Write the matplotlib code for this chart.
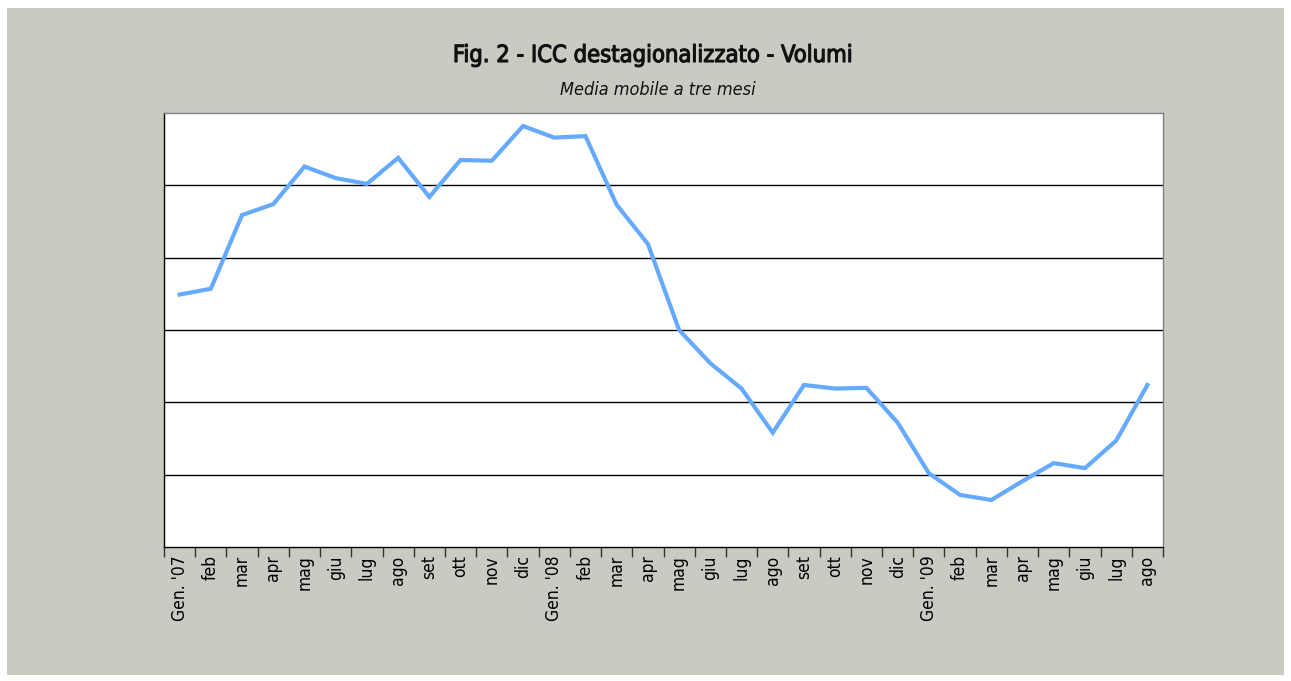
import matplotlib.pyplot as plt
import matplotlib.patches as mpatches
import matplotlib.patheffects as pe
import numpy as np

# Month labels (Jan 2007 - Aug 2009)
months = ["Gen. '07", "feb", "mar", "apr", "mag", "giu", "lug", "ago", "set", "ott", "nov", "dic",
          "Gen. '08", "feb", "mar", "apr", "mag", "giu", "lug", "ago", "set", "ott", "nov", "dic",
          "Gen. '09", "feb", "mar", "apr", "mag", "giu", "lug", "ago"]

# ICC volumes, 3-month moving average (axis units unlabelled)
icc = [3.49, 3.57, 4.59, 4.74, 5.26, 5.10, 5.02, 5.38, 4.84, 5.35, 5.34, 5.82,
       5.66, 5.68, 4.73, 4.19, 3.00, 2.54, 2.19, 1.58, 2.24, 2.19, 2.20, 1.72,
       1.02, 0.72, 0.65, 0.91, 1.16, 1.09, 1.47, 2.24]

grid_levels = [1, 2, 3, 4, 5]

fig = plt.figure(figsize=(12.91, 6.81), dpi=100)
fig.patch.set_facecolor('white')

# grey panel behind the chart
fig.patches.append(mpatches.Rectangle((7 / 1291, 6 / 681), 1277 / 1291, 667 / 681,
                                      transform=fig.transFigure, facecolor='#c9cac2',
                                      edgecolor='none', zorder=-10))

ax = fig.add_axes([164 / 1291, 134 / 681, 999 / 1291, 434 / 681])
ax.set_zorder(5)
ax.set_facecolor('white')

x = np.arange(len(months))
ax.plot(x, icc, color='#66aaff', linewidth=3, solid_joinstyle='miter', zorder=3)

for g in grid_levels:
    ax.axhline(g, color='black', linewidth=1, zorder=2)

ax.set_xlim(-0.5, len(months) - 0.5)
ax.set_ylim(0, 6)
ax.set_yticks([])

# ticks sit between the months, labels in the middle
ax.set_xticks(np.arange(-0.5, len(months)), minor=False)
ax.set_xticklabels([])
ax.set_xticks(x, minor=True)
ax.set_xticklabels(months, minor=True, rotation=90, fontsize=12.5, fontstretch='condensed')
ax.tick_params(axis='x', which='major', direction='out', length=7, width=1, color='#333333')
ax.tick_params(axis='x', which='minor', length=0, pad=6)

ax.spines['left'].set_color('black')
ax.spines['bottom'].set_color('black')
ax.spines['top'].set_color('#808080')
ax.spines['right'].set_color('#808080')
for s in ax.spines.values():
    s.set_linewidth(1)

fig.text(652 / 1291, 1 - 55 / 681, 'Fig. 2 - ICC destagionalizzato - Volumi',
         ha='center', va='center', fontsize=17, fontweight='normal',
         fontstretch='condensed', color='#111111',
         path_effects=[pe.withStroke(linewidth=0.8, foreground='#111111')])
fig.text(658 / 1291, 1 - 90 / 681, 'Media mobile a tre mesi',
         ha='center', va='center', fontsize=13, style='italic',
         fontstretch='condensed', color='#111111')

fig.savefig('out.png', dpi=100, facecolor=fig.get_facecolor())
